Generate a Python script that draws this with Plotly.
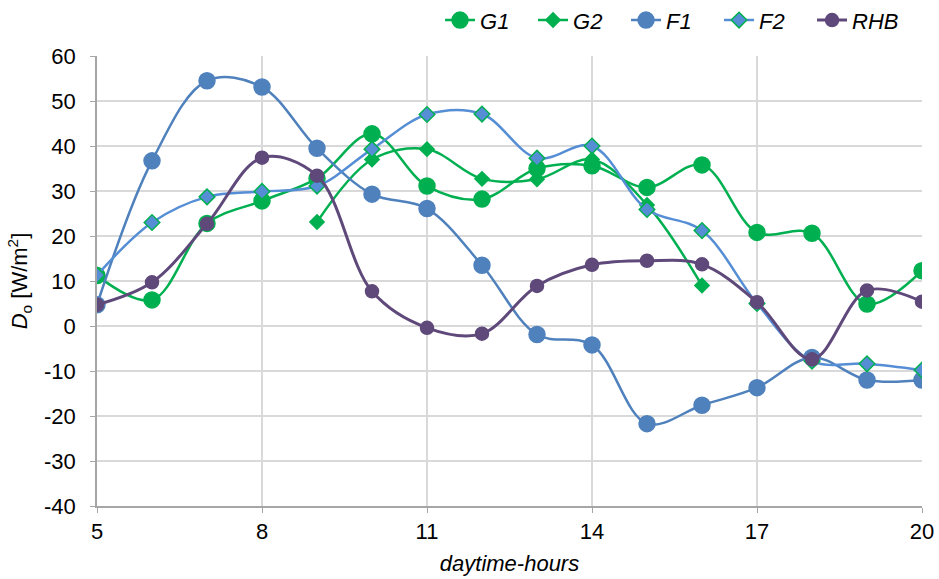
import plotly.graph_objects as go

hours = list(range(5, 21))

g1 = [11.2, 5.8, 22.8, 27.8, 32.8, 42.7, 31.1, 28.2, 35.0, 35.6, 30.8, 35.8, 20.8, 20.6, 4.9, 12.3]
g2 = [None, None, None, None, 23.1, 37.0, 39.3, 32.7, 32.6, 37.0, 26.9, 9.0, None, None, None, None]
f1 = [4.7, 36.7, 54.5, 53.1, 39.5, 29.3, 26.1, 13.5, -1.9, -4.2, -21.7, -17.6, -13.7, -7.0, -12.0, -12.0]
f2 = [11.3, 23.0, 28.7, 29.9, 31.1, 39.3, 47.0, 47.1, 37.3, 40.0, 25.9, 21.2, 5.0, -7.8, -8.4, -9.8]
rhb = [4.7, 9.7, 22.7, 37.4, 33.4, 7.7, -0.4, -1.7, 8.9, 13.6, 14.5, 13.7, 5.3, -7.4, 7.9, 5.4]

x_ticks = [5, 8, 11, 14, 17, 20]
y_ticks = list(range(-40, 61, 10))
y_tick_text = [str(v) for v in y_ticks]  # plain hyphen for negatives

GREEN = "#00B050"
BLUE = "#4F81BD"
LIGHT_BLUE = "#558ED5"
PURPLE = "#5F497A"
FONT = "Liberation Sans, Arial"

fig = go.Figure()


def add(name, y, color, symbol, size, width, marker_color=None, line_edge=None):
    fig.add_trace(go.Scatter(
        x=hours, y=y, name=f"<i>{name}</i>", mode="lines+markers",
        line=dict(color=color, width=width, shape="spline", smoothing=1),
        marker=dict(symbol=symbol, size=size, color=marker_color or color,
                    line=dict(color=line_edge or (marker_color or color), width=1.5)),
        connectgaps=False,
    ))


add("G1", g1, GREEN, "circle", 16, 2.5)
add("G2", g2, GREEN, "diamond", 11, 2.5)
add("F1", f1, BLUE, "circle", 16, 2.5)
add("F2", f2, LIGHT_BLUE, "diamond", 12, 2.5, marker_color=LIGHT_BLUE, line_edge=GREEN)
add("RHB", rhb, PURPLE, "circle", 13, 3)

fig.update_layout(
    width=939, height=579,
    margin=dict(l=97, r=17, t=56, b=73, autoexpand=False),
    plot_bgcolor="white", paper_bgcolor="white",
    font=dict(family=FONT, size=22, color="#000000"),
    showlegend=True,
    legend=dict(orientation="h", x=0.4158, xanchor="left",
                yref="container", y=0.965, yanchor="middle",
                font=dict(size=22), itemwidth=30, entrywidth=48, traceorder="normal",
                bgcolor="rgba(0,0,0,0)", borderwidth=0),
    xaxis=dict(
        range=[5, 20], tickmode="array", tickvals=x_ticks,
        showgrid=True, gridcolor="#D9D9D9", gridwidth=1.5,
        showline=True, linecolor="#A6A6A6", linewidth=1.5,
        ticks="outside", ticklen=5, tickcolor="#A6A6A6",
        zeroline=False, automargin=False,
        tickfont=dict(size=22),
        title=dict(text="<i>daytime-hours</i>", font=dict(size=22), standoff=12),
    ),
    yaxis=dict(
        range=[-40, 60], tickmode="array", tickvals=y_ticks, ticktext=y_tick_text,
        showgrid=True, gridcolor="#D9D9D9", gridwidth=1.5,
        showline=True, linecolor="#A6A6A6", linewidth=1.5,
        ticks="outside", ticklen=5, tickcolor="#A6A6A6",
        zeroline=False, automargin=False,
        tickfont=dict(size=22), ticklabelstandoff=10,
        title=dict(text="<i>D</i><sub>o</sub> [W/m<sup>2</sup>]", font=dict(size=22), standoff=10),
    ),
)

fig.write_html("out.html")
